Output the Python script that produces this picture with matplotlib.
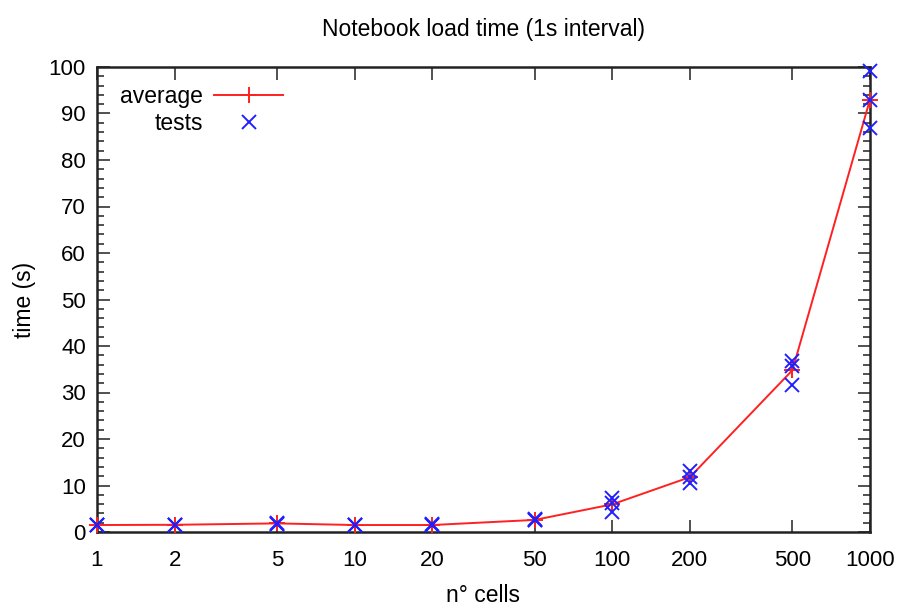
import matplotlib
matplotlib.use("Agg")
import matplotlib.pyplot as plt
from matplotlib.ticker import FixedLocator, MultipleLocator, NullLocator

plt.rcParams['font.family'] = ['Liberation Sans', 'DejaVu Sans']

cells = [1, 2, 5, 10, 20, 50, 100, 200, 500, 1000]
average = [1.5, 1.55, 1.85, 1.5, 1.5, 2.6, 5.95, 11.8, 34.8, 93.0]
test1 = [1.4, 1.5, 1.8, 1.4, 1.4, 2.5, 7.4, 13.2, 36.8, 99.2]
test2 = [1.6, 1.5, 2.0, 1.6, 1.7, 2.8, 6.2, 11.8, 35.8, 93.0]
test3 = [1.5, 1.6, 1.7, 1.5, 1.4, 2.5, 4.3, 10.5, 31.7, 86.8]
xtick_labels = ["1", "2", "5", "10", "20", "50", "100", "200", "500", "1000"]

fig = plt.figure(figsize=(8.98, 6.08), dpi=100)
ax = fig.add_axes([97/898, 1 - 532/608, (870 - 97)/898, (532 - 67)/608])

ax.plot(cells, average, color='#ff2020', lw=1.4, marker='+', ms=11, mew=1.4,
        label='average', clip_on=False, zorder=3)
tx = cells * 3
ty = test1 + test2 + test3
ax.plot(tx, ty, ls='none', color='#2020ff', marker='x', ms=10, mew=1.4,
        label='tests', clip_on=False, zorder=4)

ax.set_xscale('log')
ax.set_xlim(1, 1000)
ax.set_ylim(0, 100)
ax.xaxis.set_major_locator(FixedLocator(cells))
ax.xaxis.set_minor_locator(NullLocator())
ax.set_xticklabels(xtick_labels)
ax.yaxis.set_major_locator(MultipleLocator(10))
ax.yaxis.set_minor_locator(MultipleLocator(2))

ax.tick_params(which='both', direction='in', top=True, right=True, labelsize=16,
               color='#333333', width=1.2)
ax.tick_params(which='major', length=9)
ax.tick_params(which='minor', length=5)
ax.tick_params(axis='x', pad=13)
ax.tick_params(axis='y', pad=8)
for s in ax.spines.values():
    s.set_linewidth(1.8)
    s.set_color('#222222')

ax.set_title('Notebook load time (1s interval)', fontsize=16.5, pad=22)
ax.set_xlabel('n° cells', fontsize=16.5, labelpad=9)
ax.set_ylabel('time (s)', fontsize=16.5, labelpad=9)

leg = ax.legend(loc='upper left', markerfirst=False, frameon=False, fontsize=16.5,
                handlelength=3.0, borderaxespad=0.2, labelspacing=0.15,
                handletextpad=0.5, bbox_to_anchor=(0.012, 0.99))
for t in leg.get_texts():
    t.set_ha('right')

fig.savefig('out.png', dpi=100)
